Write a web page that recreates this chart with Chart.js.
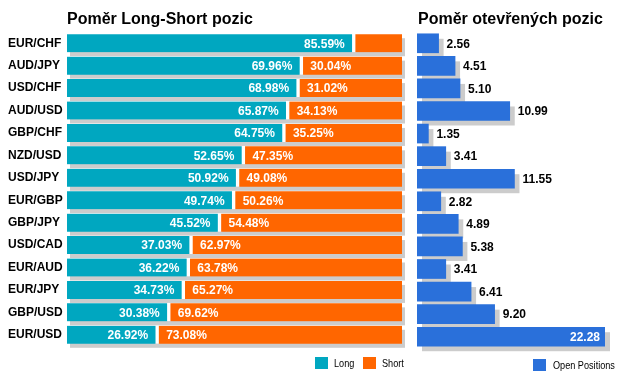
<!DOCTYPE html>
<html>
<head>
<meta charset="utf-8">
<script src="https://cdn.jsdelivr.net/npm/chart.js@4"></script>
<style>
  html, body { margin: 0; padding: 0; background: #fff; }
  #wrap { position: relative; width: 623px; height: 378px; overflow: hidden; font-family: Arial, "Liberation Sans", sans-serif; }
  canvas { position: absolute; top: 0; }
  #ls { left: 0; }
  #op { left: 410px; }
  .title { position: absolute; top: 10px; font-weight: bold; font-size: 16px; color: #000; white-space: nowrap; }
  .legend { position: absolute; font-size: 11px; color: #000; white-space: nowrap; }
  .legend span.sw { position: absolute; width: 13px; height: 12px; }
  .legend span.tx { position: absolute; line-height: 12px; transform: scaleX(0.83); transform-origin: 0 0; }
</style>
</head>
<body>
<div id="wrap">
  <canvas id="ls" width="410" height="378"></canvas>
  <canvas id="op" width="213" height="378"></canvas>
  <div class="title" style="left:67px">Poměr Long-Short pozic</div>
  <div class="title" style="left:418px">Poměr otevřených pozic</div>
  <div class="legend" style="left:0;top:0">
    <span class="sw" style="left:315px;top:357px;background:#00A7C0"></span><span class="tx" style="left:334px;top:357px">Long</span>
    <span class="sw" style="left:363px;top:357px;background:#FF6600"></span><span class="tx" style="left:382px;top:357px">Short</span>
    <span class="sw" style="left:533px;top:359px;background:#2A70DA"></span><span class="tx" style="left:553px;top:359px">Open Positions</span>
  </div>
</div>
<script>
"use strict";

const pairs = ["EUR/CHF", "AUD/JPY", "USD/CHF", "AUD/USD", "GBP/CHF", "NZD/USD", "USD/JPY",
  "EUR/GBP", "GBP/JPY", "USD/CAD", "EUR/AUD", "EUR/JPY", "GBP/USD", "EUR/USD"];
const longPct = [85.59, 69.96, 68.98, 65.87, 64.75, 52.65, 50.92, 49.74, 45.52, 37.03, 36.22, 34.73, 30.38, 26.92];
const shortPct = [14.41, 30.04, 31.02, 34.13, 35.25, 47.35, 49.08, 50.26, 54.48, 62.97, 63.78, 65.27, 69.62, 73.08];
const openPos = [2.56, 4.51, 5.10, 10.99, 1.35, 3.41, 11.55, 2.82, 4.89, 5.38, 3.41, 6.41, 9.20, 22.28];

const TEAL = "#00A7C0", ORANGE = "#FF6600", BLUE = "#2A70DA", SHADOW = "#CCCCCC";
const FONT = "Arial, 'Liberation Sans', sans-serif";

// grey drop shadow behind each row (whole stack), drawn before the bars
function shadowPlugin(dx, dy) {
  return {
    id: "rowShadow",
    beforeDatasetsDraw(chart) {
      const ctx = chart.ctx;
      const first = chart.getDatasetMeta(0).data;
      const last = chart.getDatasetMeta(chart.data.datasets.length - 1).data;
      ctx.save();
      ctx.fillStyle = SHADOW;
      first.forEach((bar, i) => {
        const x0 = bar.base, x1 = last[i].x;
        ctx.fillRect(x0 + dx, bar.y - bar.height / 2 + dy, x1 - x0, bar.height);
      });
      ctx.restore();
    },
  };
}

const lsLabels = {
  id: "lsLabels",
  afterDatasetsDraw(chart) {
    const ctx = chart.ctx;
    ctx.save();
    ctx.font = `bold 12px ${FONT}`;
    ctx.fillStyle = "#fff";
    ctx.textBaseline = "middle";
    chart.getDatasetMeta(0).data.forEach((bar, i) => {
      if (longPct[i] < 20) return;
      ctx.textAlign = "right";
      ctx.fillText(longPct[i].toFixed(2) + "%", bar.x - 9, bar.y + 1);
    });
    chart.getDatasetMeta(1).data.forEach((bar, i) => {
      if (shortPct[i] < 20) return;
      ctx.textAlign = "left";
      ctx.fillText(shortPct[i].toFixed(2) + "%", bar.base + 9, bar.y + 1);
    });
    ctx.restore();
  },
};

const opLabels = {
  id: "opLabels",
  afterDatasetsDraw(chart) {
    const ctx = chart.ctx;
    const max = chart.scales.x.max;
    ctx.save();
    ctx.font = `bold 12px ${FONT}`;
    ctx.textBaseline = "middle";
    chart.getDatasetMeta(0).data.forEach((bar, i) => {
      const txt = openPos[i].toFixed(2);
      if (openPos[i] > max * 0.8) {
        ctx.fillStyle = "#fff";
        ctx.textAlign = "right";
        ctx.fillText(txt, bar.x - 5, bar.y + 1);
      } else {
        ctx.fillStyle = "#000";
        ctx.textAlign = "left";
        ctx.fillText(txt, bar.x + 8, bar.y + 1);
      }
    });
    ctx.restore();
  },
};

new Chart(document.getElementById("ls"), {
  type: "bar",
  data: {
    labels: pairs,
    datasets: [
      { label: "Long", data: longPct, backgroundColor: TEAL, borderColor: "#fff",
        borderWidth: { top: 0, bottom: 0, left: 0, right: 2 }, borderSkipped: false, barThickness: 18 },
      { label: "Short", data: shortPct, backgroundColor: ORANGE, borderColor: "#fff",
        borderWidth: { top: 0, bottom: 0, left: 2, right: 0 }, borderSkipped: false, barThickness: 18 },
    ],
  },
  options: {
    indexAxis: "y",
    responsive: false,
    animation: false,
    layout: { padding: { left: 8, right: 8, top: 32, bottom: 32 } },
    plugins: { legend: { display: false }, tooltip: { enabled: false } },
    scales: {
      x: { stacked: true, min: 0, max: 100, display: false },
      y: {
        stacked: true,
        grid: { display: false },
        border: { display: false },
        ticks: { color: "#000", font: { family: FONT, size: 12, weight: "bold" }, crossAlign: "far", padding: 0 },
        afterFit: (s) => { s.width = 59; },
      },
    },
  },
  plugins: [shadowPlugin(3, 4), lsLabels],
});

new Chart(document.getElementById("op"), {
  type: "bar",
  data: {
    labels: pairs,
    datasets: [
      { label: "Open Positions", data: openPos, backgroundColor: BLUE, borderWidth: 0, barThickness: 19 },
    ],
  },
  options: {
    indexAxis: "y",
    responsive: false,
    animation: false,
    layout: { padding: { left: 7, right: 18, top: 32, bottom: 30 } },
    plugins: { legend: { display: false }, tooltip: { enabled: false } },
    scales: {
      x: { min: 0, max: 22.28, display: false },
      y: { display: false },
    },
  },
  plugins: [shadowPlugin(5, 5), opLabels],
});
</script>
</body>
</html>
